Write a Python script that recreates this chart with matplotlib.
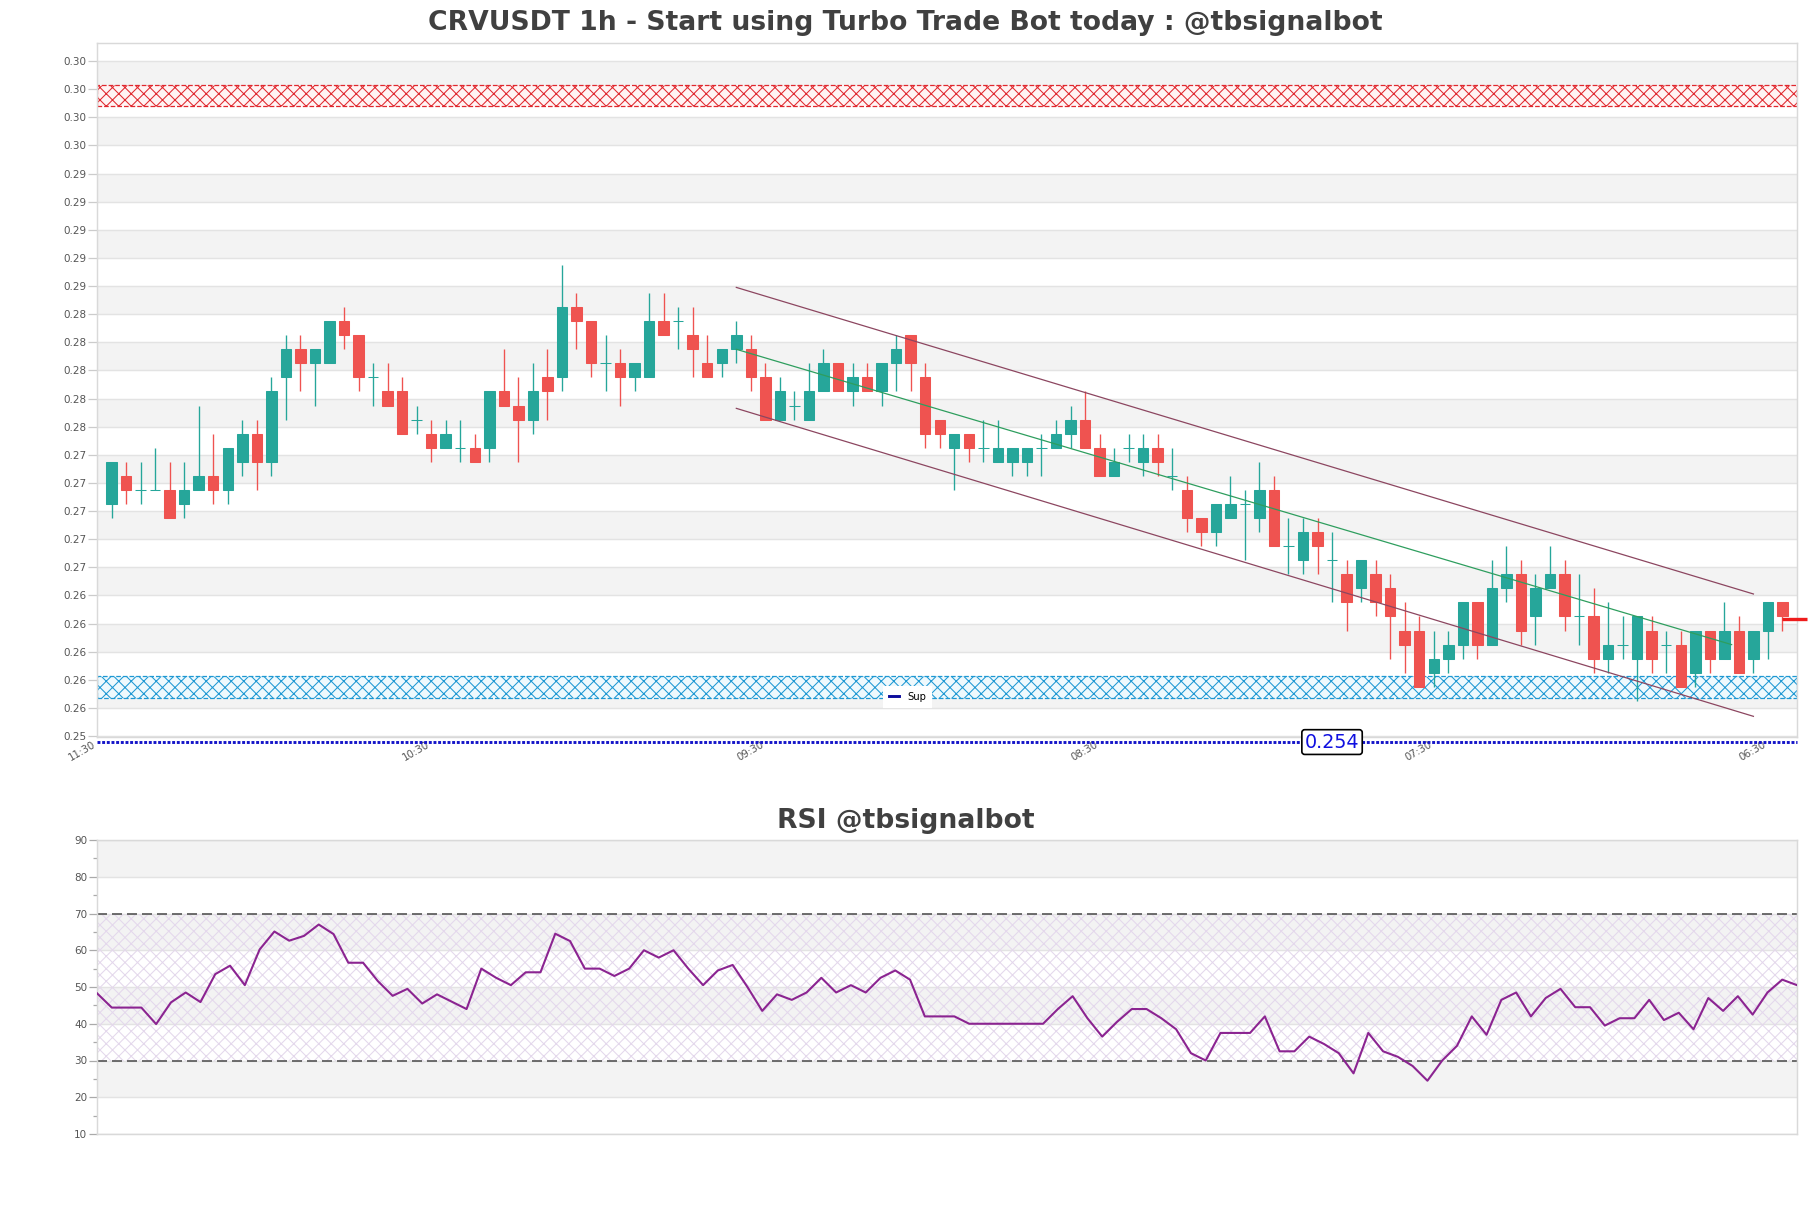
import numpy as np
import matplotlib
matplotlib.use('Agg')
import matplotlib.pyplot as plt
from matplotlib.lines import Line2D

plt.rcParams['hatch.linewidth'] = 0.5

# --- data ---
opens = [0.2705, 0.2725, 0.2715, 0.2715, 0.2715, 0.2705, 0.2715, 0.2725, 0.2715, 0.2735,
         0.2755, 0.2735, 0.2795, 0.2815, 0.2805, 0.2805, 0.2835, 0.2825, 0.2795, 0.2785,
         0.2785, 0.2765, 0.2755, 0.2745, 0.2745, 0.2745, 0.2745, 0.2785, 0.2775, 0.2765,
         0.2795, 0.2795, 0.2845, 0.2835, 0.2805, 0.2805, 0.2795, 0.2795, 0.2835, 0.2835,
         0.2825, 0.2805, 0.2805, 0.2815, 0.2815, 0.2795, 0.2765, 0.2775, 0.2765, 0.2785,
         0.2805, 0.2785, 0.2795, 0.2785, 0.2805, 0.2825, 0.2795, 0.2765, 0.2745, 0.2755,
         0.2745, 0.2735, 0.2735, 0.2735, 0.2745, 0.2745, 0.2755, 0.2765, 0.2745, 0.2725,
         0.2745, 0.2735, 0.2745, 0.2725, 0.2715, 0.2695, 0.2685, 0.2695, 0.2705, 0.2695,
         0.2715, 0.2675, 0.2665, 0.2685, 0.2665, 0.2655, 0.2645, 0.2655, 0.2645, 0.2615,
         0.2615, 0.2585, 0.2595, 0.2605, 0.2635, 0.2605, 0.2645, 0.2655, 0.2625, 0.2645,
         0.2655, 0.2625, 0.2625, 0.2595, 0.2605, 0.2595, 0.2615, 0.2605, 0.2605, 0.2585,
         0.2615, 0.2595, 0.2615, 0.2595, 0.2615, 0.2635]
highs = [0.2735, 0.2735, 0.2735, 0.2745, 0.2735, 0.2735, 0.2775, 0.2755, 0.2745, 0.2765,
         0.2765, 0.2795, 0.2825, 0.2825, 0.2815, 0.2835, 0.2845, 0.2825, 0.2805, 0.2805,
         0.2795, 0.2775, 0.2765, 0.2765, 0.2765, 0.2755, 0.2785, 0.2815, 0.2795, 0.2805,
         0.2815, 0.2875, 0.2855, 0.2835, 0.2825, 0.2815, 0.2805, 0.2855, 0.2855, 0.2845,
         0.2845, 0.2825, 0.2815, 0.2835, 0.2825, 0.2805, 0.2795, 0.2785, 0.2805, 0.2815,
         0.2805, 0.2805, 0.2805, 0.2805, 0.2825, 0.2825, 0.2805, 0.2765, 0.2755, 0.2755,
         0.2765, 0.2765, 0.2745, 0.2745, 0.2755, 0.2765, 0.2775, 0.2785, 0.2755, 0.2745,
         0.2755, 0.2755, 0.2755, 0.2745, 0.2725, 0.2695, 0.2705, 0.2725, 0.2715, 0.2735,
         0.2725, 0.2695, 0.2695, 0.2695, 0.2685, 0.2665, 0.2665, 0.2665, 0.2655, 0.2635,
         0.2625, 0.2615, 0.2615, 0.2635, 0.2635, 0.2665, 0.2675, 0.2665, 0.2655, 0.2675,
         0.2665, 0.2655, 0.2645, 0.2635, 0.2625, 0.2625, 0.2625, 0.2615, 0.2615, 0.2615,
         0.2615, 0.2635, 0.2625, 0.2615, 0.2635, 0.2635]
lows = [0.2695, 0.2705, 0.2705, 0.2715, 0.2695, 0.2695, 0.2715, 0.2705, 0.2705, 0.2725,
        0.2715, 0.2725, 0.2765, 0.2785, 0.2775, 0.2805, 0.2815, 0.2785, 0.2775, 0.2775,
        0.2755, 0.2755, 0.2735, 0.2745, 0.2735, 0.2735, 0.2735, 0.2775, 0.2735, 0.2755,
        0.2765, 0.2785, 0.2815, 0.2795, 0.2785, 0.2775, 0.2785, 0.2795, 0.2825, 0.2815,
        0.2795, 0.2795, 0.2795, 0.2805, 0.2785, 0.2765, 0.2765, 0.2765, 0.2765, 0.2785,
        0.2785, 0.2775, 0.2785, 0.2775, 0.2785, 0.2785, 0.2745, 0.2745, 0.2715, 0.2735,
        0.2735, 0.2735, 0.2725, 0.2725, 0.2725, 0.2745, 0.2745, 0.2745, 0.2725, 0.2725,
        0.2735, 0.2725, 0.2725, 0.2715, 0.2685, 0.2675, 0.2675, 0.2695, 0.2665, 0.2685,
        0.2675, 0.2655, 0.2655, 0.2655, 0.2635, 0.2615, 0.2635, 0.2625, 0.2595, 0.2585,
        0.2575, 0.2575, 0.2585, 0.2595, 0.2595, 0.2605, 0.2635, 0.2605, 0.2605, 0.2645,
        0.2615, 0.2605, 0.2585, 0.2585, 0.2595, 0.2565, 0.2585, 0.2585, 0.2575, 0.2575,
        0.2585, 0.2595, 0.2585, 0.2585, 0.2595, 0.2615]
closes = [0.2735, 0.2715, 0.2715, 0.2715, 0.2695, 0.2715, 0.2725, 0.2715, 0.2745, 0.2755,
          0.2735, 0.2785, 0.2815, 0.2805, 0.2815, 0.2835, 0.2825, 0.2795, 0.2795, 0.2775,
          0.2755, 0.2765, 0.2745, 0.2755, 0.2745, 0.2735, 0.2785, 0.2775, 0.2765, 0.2785,
          0.2785, 0.2845, 0.2835, 0.2805, 0.2805, 0.2795, 0.2805, 0.2835, 0.2825, 0.2835,
          0.2815, 0.2795, 0.2815, 0.2825, 0.2795, 0.2765, 0.2785, 0.2775, 0.2785, 0.2805,
          0.2785, 0.2795, 0.2785, 0.2805, 0.2815, 0.2805, 0.2755, 0.2755, 0.2755, 0.2745,
          0.2745, 0.2745, 0.2745, 0.2745, 0.2745, 0.2755, 0.2765, 0.2745, 0.2725, 0.2735,
          0.2745, 0.2745, 0.2735, 0.2725, 0.2695, 0.2685, 0.2705, 0.2705, 0.2705, 0.2715,
          0.2675, 0.2675, 0.2685, 0.2675, 0.2665, 0.2635, 0.2665, 0.2635, 0.2625, 0.2605,
          0.2575, 0.2595, 0.2605, 0.2635, 0.2605, 0.2645, 0.2655, 0.2615, 0.2645, 0.2655,
          0.2625, 0.2625, 0.2595, 0.2605, 0.2605, 0.2625, 0.2595, 0.2605, 0.2575, 0.2615,
          0.2595, 0.2615, 0.2585, 0.2615, 0.2635, 0.2625]

rsi = [48.3, 44.4, 44.4, 44.4, 39.9, 45.8, 48.5, 45.9, 53.5, 55.8,
       50.5, 60.2, 65.1, 62.6, 63.9, 67.0, 64.4, 56.6, 56.6, 51.6,
       47.6, 49.5, 45.5, 48.0, 46.0, 44.0, 55.0, 52.5, 50.5, 54.0,
       54.0, 64.5, 62.5, 55.0, 55.0, 53.0, 55.0, 60.0, 58.0, 60.0,
       55.0, 50.5, 54.5, 56.0, 50.0, 43.5, 48.0, 46.5, 48.5, 52.5,
       48.5, 50.5, 48.5, 52.5, 54.5, 52.0, 42.0, 42.0, 42.0, 40.0,
       40.0, 40.0, 40.0, 40.0, 40.0, 44.0, 47.5, 41.5, 36.5, 40.5,
       44.0, 44.0, 41.5, 38.5, 32.0, 30.0, 37.5, 37.5, 37.5, 42.0,
       32.5, 32.5, 36.5, 34.5, 32.0, 26.5, 37.5, 32.5, 31.0, 28.5,
       24.5, 30.0, 34.0, 42.0, 37.0, 46.5, 48.5, 42.0, 47.0, 49.5,
       44.5, 44.5, 39.5, 41.5, 41.5, 46.5, 41.0, 43.0, 38.5, 47.0,
       43.5, 47.5, 42.5, 48.5, 52.0, 50.5]

xtick_labels = ['11:30', '10:30', '09:30', '08:30', '07:30', '06:30']
xtick_pos = [-1, 22, 45, 68, 91, 114]

resistance = (0.2988, 0.3003)
support = (0.2567, 0.2583)
sup_line = 0.25357
sup_label = '0.254'
last_price = 0.2623

# channel (start idx, start price, end idx, end price)
chan_upper = (43, 0.2859, 113, 0.2641)
chan_lower = (43, 0.2773, 113, 0.2554)
chan_mid = (43, 0.2815, 111.5, 0.2605)

title = 'CRVUSDT 1h - Start using Turbo Trade Bot today : @tbsignalbot'
rsi_title = 'RSI @tbsignalbot'

# --- figure ---
W, H = 1811, 1208
fig = plt.figure(figsize=(W / 150, H / 150), dpi=150)
ax = fig.add_axes([97 / W, 1 - 737 / H, 1700 / W, 694 / H])
ax2 = fig.add_axes([97 / W, 1 - 1134 / H, 1700 / W, 294 / H])

up_col = '#26a69a'
dn_col = '#ef5350'
grid_col = '#e3e3e3'
band_col = '#f3f3f3'
spine_col = '#d9d9d9'
txt_col = '#555555'

n = len(closes)
x = np.arange(n)
o = np.array(opens); h = np.array(highs); l = np.array(lows); c = np.array(closes)
cols = [up_col if cc >= oo else dn_col for oo, cc in zip(o, c)]

# price axis background
yt = np.round(np.arange(0.254, 0.3021, 0.002), 3)
for k in range(1, len(yt) - 1, 2):
    ax.axhspan(yt[k], yt[k + 1], color=band_col, zorder=0, lw=0)
for v in yt:
    ax.axhline(v, color=grid_col, lw=0.7, zorder=0.5)

ax.axhspan(*resistance, facecolor='#fff4f4', edgecolor='#e0282e', hatch='xxxx',
           lw=0.6, ls='--', zorder=1)
ax.axhspan(*support, facecolor='#eef9fd', edgecolor='#1d98d3', hatch='xxxx',
           lw=0.6, ls='--', zorder=1)

ax.vlines(x, l, h, colors=cols, lw=0.65, zorder=3)
ax.bar(x, c - o, bottom=o, width=0.72, color=cols, edgecolor=cols, lw=0.5, zorder=4)

for (x0, y0, x1, y1), col in [(chan_upper, '#8c4660'), (chan_lower, '#8c4660'),
                              (chan_mid, '#2e9e5e')]:
    ax.plot([x0, x1], [y0, y1], color=col, lw=0.6, zorder=5)

ax.axhline(sup_line, color='#1414c8', ls=(0, (1, 0.6)), lw=1.4, clip_on=False, zorder=6)
ax.text(84, sup_line, sup_label, ha='center', va='center', fontsize=9.2, color='#1010e0',
        bbox=dict(boxstyle='round,pad=0.15', fc='white', ec='black', lw=0.8),
        clip_on=False, zorder=7)
ax.plot([115, 116.7], [last_price, last_price], color='#ee1c1c', lw=1.6,
        clip_on=False, zorder=7, solid_capstyle='butt')

ax.set_xlim(-1, 116)
ax.set_ylim(0.25393, 0.30328)
ax.set_yticks(yt)
ax.set_yticklabels(['%.2f' % v for v in yt])
ax.set_xticks(xtick_pos)
ax.set_xticklabels(xtick_labels, rotation=30, ha='right')
ax.tick_params(axis='y', length=4.2, width=0.6, color='#cccccc', labelsize=5,
               labelcolor=txt_col, pad=0.8)
ax.tick_params(axis='x', length=0, labelsize=4.9, labelcolor=txt_col, pad=1)
for s in ax.spines.values():
    s.set_color(spine_col)
    s.set_linewidth(0.7)

leg = ax.legend([Line2D([], [], color='#0c0c9c', lw=1.4)], ['Sup'], loc='center',
                bbox_to_anchor=(0.477, 0.058), fontsize=4.8, handlelength=1.0,
                frameon=True, framealpha=1, facecolor='white', edgecolor='white',
                fancybox=False, borderpad=0.5)
leg.set_zorder(8)

# RSI axis
for lo in (20, 40, 60, 80):
    ax2.axhspan(lo, lo + 10, color=band_col, zorder=0, lw=0)
for v in range(10, 91, 10):
    ax2.axhline(v, color=grid_col, lw=0.7, zorder=0.5)
ax2.axhspan(30, 70, facecolor='none', edgecolor='#e4d8ec', hatch='xxxx', lw=0, zorder=1)
ax2.axhline(30, color='#555555', ls=(0, (6, 3)), lw=0.8, zorder=2)
ax2.axhline(70, color='#555555', ls=(0, (6, 3)), lw=0.8, zorder=2)
ax2.plot(np.arange(len(rsi)), rsi, color='#8b2491', lw=1.0, zorder=3)
ax2.set_xlim(0, len(rsi) - 1)
ax2.set_ylim(10, 90)
ax2.set_yticks(range(10, 91, 10))
ax2.set_yticks(range(15, 90, 10), minor=True)
ax2.set_xticks([])
ax2.tick_params(axis='y', which='major', length=3.7, width=0.6, color='#aaaaaa',
                labelsize=5, labelcolor=txt_col, pad=1)
ax2.tick_params(axis='y', which='minor', length=1.8, width=0.6, color='#aaaaaa')
for s in ax2.spines.values():
    s.set_color(spine_col)
    s.set_linewidth(0.7)

fig.text(0.5, 1 - 23 / H, title, ha='center', va='center', fontsize=12.8,
         fontweight='bold', color='#404040')
fig.text(0.5, 1 - 821 / H, rsi_title, ha='center', va='center', fontsize=12.8,
         fontweight='bold', color='#404040')

fig.savefig('out.png', dpi=150, facecolor='white')
